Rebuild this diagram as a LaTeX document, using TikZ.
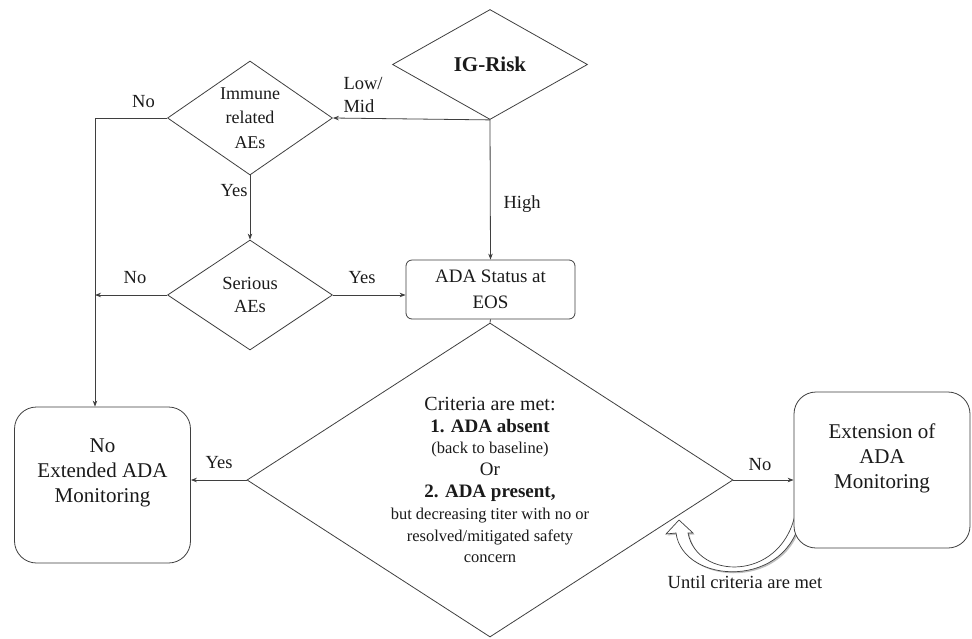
\documentclass[tikz,border=0pt]{standalone}
\usepackage{fontspec}
\setmainfont{Liberation Serif}
\usetikzlibrary{arrows.meta, shapes.geometric, shadows}

\definecolor{lineclr}{HTML}{3F3F3F}
\definecolor{txtclr}{HTML}{1A1A1A}
\newcommand{\critsmall}{\fontsize{16.5}{21.8}\selectfont}

\begin{document}
\begin{tikzpicture}[
    x=1pt, y=-1pt,
    >={Stealth[length=6pt, width=4.5pt]},
    every node/.style={text=txtclr},
    decision/.style={diamond, draw=lineclr, line width=0.8pt, inner sep=0pt, align=center, font=\fontsize{18}{24.5}\selectfont},
    statusbox/.style={rectangle, rounded corners=6pt, draw=lineclr, line width=0.8pt, align=center, font=\fontsize{19}{26}\selectfont, minimum width=169pt, minimum height=59pt, inner sep=0pt},
    outcome/.style={rectangle, rounded corners=22pt, draw=lineclr, line width=0.8pt, fill=white, align=center, font=\fontsize{21}{25}\selectfont, minimum width=176pt, minimum height=156pt, inner sep=0pt, text depth=28pt},
    lbl/.style={font=\fontsize{18.5}{22}\selectfont},
    flow/.style={->, draw=lineclr, line width=0.8pt},
    conn/.style={draw=lineclr, line width=0.8pt}
]
\useasboundingbox (0,0) rectangle (972,638);

% ===== Decisions =====
\node[decision, font=\fontsize{21}{24}\selectfont\bfseries, minimum width=195pt, minimum height=110pt] (igrisk) at (490,64.5) {IG-Risk};
\node[decision, shape aspect=1.45, minimum width=165pt, minimum height=114pt] (immune) at (250,118) {Immune\\related\\AEs};
\node[decision, shape aspect=1.5, minimum width=165pt, minimum height=110pt, font=\fontsize{18.5}{23}\selectfont] (serious) at (250,295) {Serious\\AEs};

% ===== ADA status at end of study =====
\node[statusbox] (adastatus) at (490.5,289.5) {ADA Status at\\EOS};

% ===== Criteria diamond =====
\node[decision, shape aspect=1.55, minimum width=486pt, minimum height=314pt, font=\fontsize{19}{21.8}\selectfont] (criteria) at (490,480)
    {{\fontsize{20}{21.8}\selectfont Criteria are met:}\\
     \textbf{1. ADA absent}\\
     {\critsmall (back to baseline)}\\
     Or\\
     \textbf{2. ADA present,}\\
     {\critsmall but decreasing titer with no or}\\
     {\critsmall resolved/mitigated safety}\\
     {\critsmall concern}};

% ===== Loop arrow (until criteria are met) =====
\draw[draw=lineclr, line width=0.7pt, fill=white,
      general shadow={fill=gray!50, shadow xshift=1.5pt, shadow yshift=-1.5pt}]
    (679,520) -- (693,533) -- (688,533)
    .. controls (697,580) and (780,582) .. (795,515) -- (801,515)
    .. controls (790,590) and (683,585) .. (676,533) -- (666,534) -- cycle;
\node[lbl] (untilmet) at (745,582) {Until criteria are met};

% ===== Outcomes =====
\node[outcome] (noext) at (102.5,485) {No\\Extended ADA\\Monitoring};
\node[outcome] (extension) at (882,470) {Extension of\\ADA\\Monitoring};
\coordinate (nobus) at ([xshift=-7.5pt]noext.north);

% ===== Connectors =====
\draw[flow] (igrisk.south) -- (immune.east);
\draw[flow] (igrisk.south) -- (adastatus.north);
\draw[flow] (immune.south) -- (serious.north);
\draw[flow] (immune.west) -| (nobus);
\draw[flow] (serious.west) -- (serious.west -| nobus);
\draw[flow] (serious.east) -- (serious.east -| adastatus.west);
\draw[conn] (adastatus.south) -- (criteria.north);
\draw[flow] (criteria.west) -- (criteria.west -| noext.east);
\draw[flow] (criteria.east) -- (criteria.east -| extension.west);

% ===== Branch labels =====
\node[lbl, align=left, anchor=west, font=\fontsize{18.5}{23}\selectfont] (lowmid) at (340,95) {Low/\\Mid};
\node[lbl] (immno) at (143.5,102) {No};
\node[lbl] (immyes) at (234,191) {Yes};
\node[lbl] (high) at (522,204) {High};
\node[lbl] (serno) at (135,277.5) {No};
\node[lbl] (seryes) at (362,277.5) {Yes};
\node[lbl] (crityes) at (219,463) {Yes};
\node[lbl] (critno) at (760,465) {No};

\end{tikzpicture}
\end{document}
